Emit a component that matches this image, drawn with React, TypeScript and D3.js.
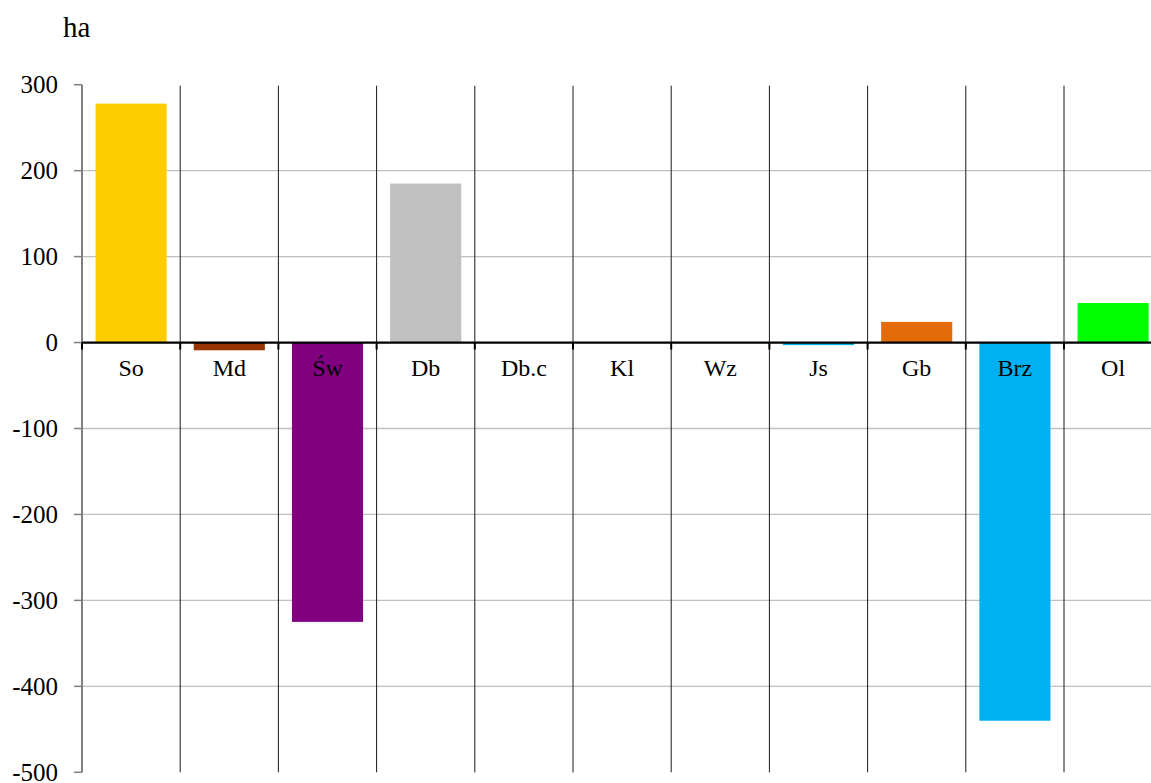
import React from "react";
import * as d3 from "d3";

const categories = ["So", "Md", "Św", "Db", "Db.c", "Kl", "Wz", "Js", "Gb", "Brz", "Ol"];
const values = [278, -9, -325, 185, 0, 0, 0, -3, 24, -440, 46];
const colors = ["#FFCC00", "#993300", "#800080", "#C0C0C0", "#FFFFFF", "#FFFFFF", "#FFFFFF", "#00B0F0", "#E36C09", "#00B0F0", "#00FF00"];
const yTicks = [300, 200, 100, 0, -100, -200, -300, -400, -500];
const yUnit = "ha";

const W = 1151;
const H = 783;
const left = 82;
const step = 98.2;
const top = 84.7;
const bottom = 772.3;

export default function App() {
  const x = d3.scaleBand<string>().domain(categories).range([left, left + step * categories.length]).padding(0);
  const y = d3.scaleLinear().domain([-500, 300]).range([bottom, top]);
  const bw = x.bandwidth() * 0.724;
  const font = "'Liberation Serif', 'Times New Roman', serif";
  const y0 = y(0);

  return (
    <svg width={W} height={H} style={{ position: "absolute", left: 0, top: 0, background: "#fff" }}>
      <rect x={0} y={0} width={W} height={H} fill="#fff" />
      {yTicks.filter((t) => t !== 300 && t !== -500 && t !== 0).map((t) => (
        <line key={"g" + t} x1={left} x2={W} y1={y(t)} y2={y(t)} stroke="#C0C0C0" strokeWidth={1.3} />
      ))}
      {categories.slice(1).map((c) => (
        <line key={"v" + c} x1={x(c)!} x2={x(c)!} y1={y(300) + 1} y2={bottom} stroke="#1a1a1a" strokeWidth={1} />
      ))}
      {categories.map((c, i) => {
        const v = values[i];
        if (v === 0) return null;
        const bx = x(c)! + (x.bandwidth() - bw) / 2;
        const yt = Math.min(y(v), y0);
        const h = Math.abs(y(v) - y0);
        return <rect key={"b" + c} x={bx} y={yt} width={bw} height={h} fill={colors[i]} />;
      })}
      <line x1={left} x2={left} y1={top} y2={bottom} stroke="#808080" strokeWidth={2} />
      {yTicks.map((t) => (
        <g key={"t" + t}>
          <line x1={left - 8} x2={left} y1={y(t)} y2={y(t)} stroke="#808080" strokeWidth={1.5} />
          <text x={58} y={y(t)} dy="0.35em" textAnchor="end" fontFamily={font} fontSize={25} fill="#000">
            {t}
          </text>
        </g>
      ))}
      <line x1={left} x2={W} y1={y0} y2={y0} stroke="#000" strokeWidth={2.2} />
      {categories.map((c) => (
        <line key={"zt" + c} x1={x(c)!} x2={x(c)!} y1={y0} y2={y0 + 7} stroke="#000" strokeWidth={2} />
      ))}
      {categories.map((c) => (
        <text key={"l" + c} x={x(c)! + x.bandwidth() / 2} y={376} textAnchor="middle" fontFamily={font} fontSize={24} fill="#000">
          {c}
        </text>
      ))}
      <text x={63} y={36.5} fontFamily={font} fontSize={29} fill="#000">
        {yUnit}
      </text>
    </svg>
  );
}
